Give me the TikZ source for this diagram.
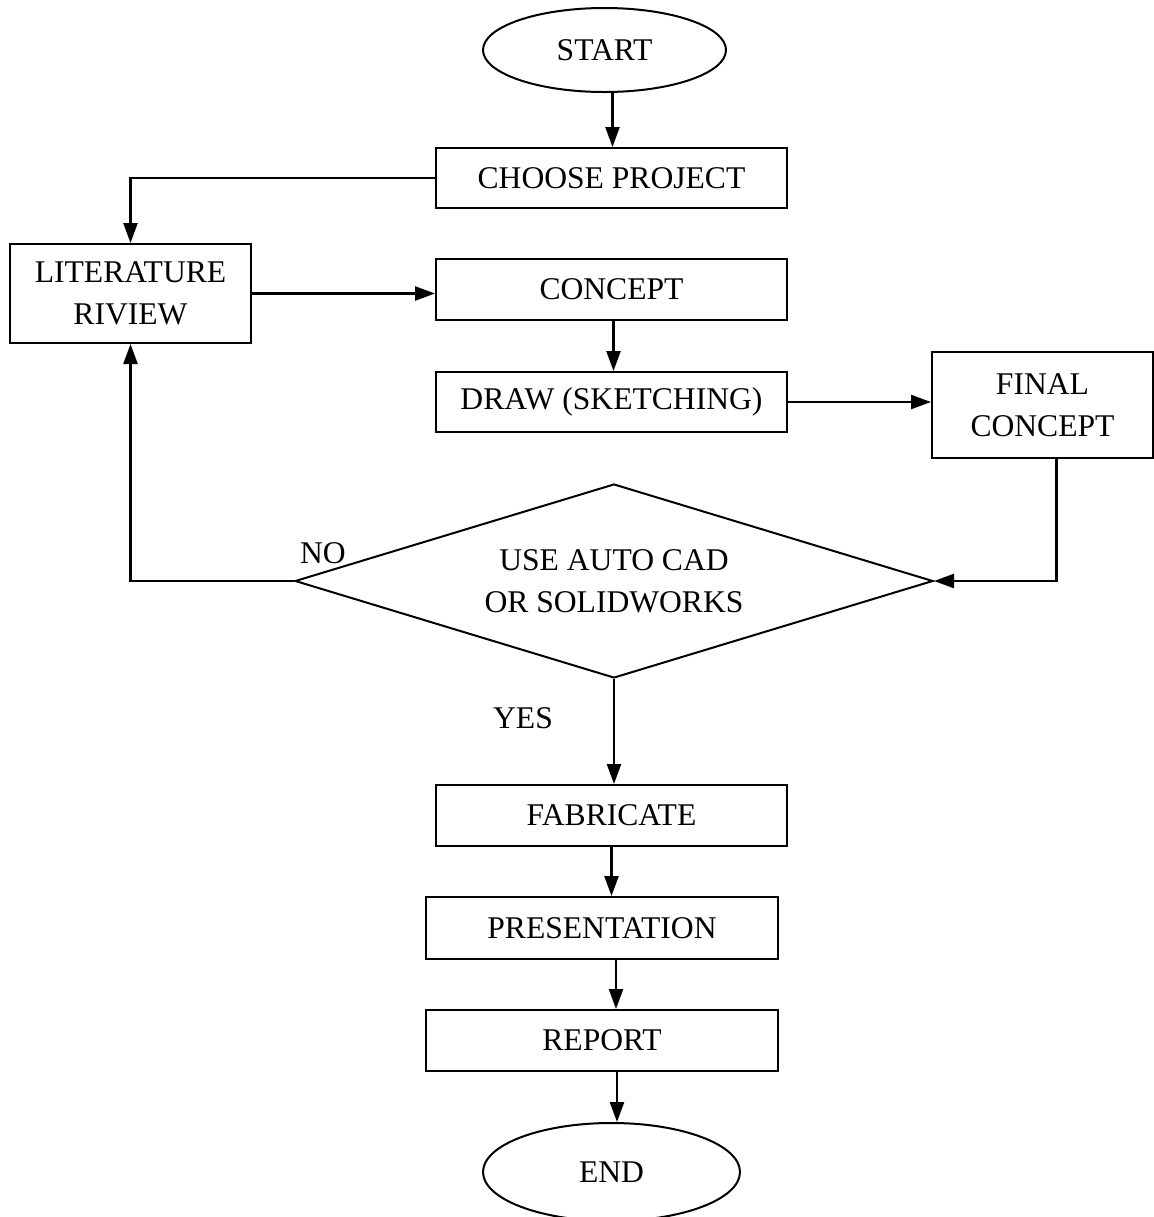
\documentclass[tikz,border=0pt]{standalone}
\usepackage{fontspec}
\setmainfont{Liberation Serif}
\usetikzlibrary{arrows.meta,shapes.geometric}
\tikzset{
  txt/.style={font=\fontsize{15.8}{21}\selectfont},
  box/.style={txt,draw,line width=1pt,rectangle,inner sep=0pt,align=center},
  term/.style={txt,draw,line width=1pt,ellipse,inner sep=0pt},
  decide/.style={txt,draw,line width=1pt,diamond,aspect=3.3,inner sep=0pt,align=center},
  arr/.style={line width=1.2pt,-{Triangle[length=10pt,width=7pt]}},
  link/.style={line width=1.2pt}
}
\begin{document}
\begin{tikzpicture}[x=0.5pt,y=-0.5pt]
            \useasboundingbox (0,0) rectangle (1154,1217);
            %方框
            \node[term,minimum width=121.5pt,minimum height=42pt] (start) at (604.5,50) {START};
            \node[box,minimum width=175.5pt,minimum height=30pt] (choose) at (611.5,178) {CHOOSE PROJECT};
            \node[box,minimum width=120.5pt,minimum height=49.5pt] (lit) at (130.5,293.5) {LITERATURE\\RIVIEW};
            \node[box,minimum width=175.5pt,minimum height=30.5pt] (concept) at (611.5,289.5) {CONCEPT};
            \node[box,minimum width=175.5pt,minimum height=30pt] (sketch) at (611.5,402) {DRAW (SKETCHING)};
            \node[box,minimum width=110.5pt,minimum height=53pt] (final) at (1042.5,405) {FINAL\\CONCEPT};
            \node[decide,minimum width=319pt,minimum height=97pt] (cad) at (614,581) {USE AUTO CAD\\OR SOLIDWORKS};
            \node[box,minimum width=175.5pt,minimum height=30.5pt] (fab) at (611.5,815.5) {FABRICATE};
            \node[box,minimum width=176pt,minimum height=31pt] (pres) at (602,928) {PRESENTATION};
            \node[box,minimum width=176pt,minimum height=30.5pt] (rep) at (602,1040.5) {REPORT};
            \node[term,minimum width=128.5pt,minimum height=49pt] (stop) at (611.5,1172) {END};
            %标注
            \node[txt] (no) at (323,553) {NO};
            \node[txt] (yes) at (523,718) {YES};
            %箭头
            \draw [arr] ([xshift=4pt]start.south) -- ([xshift=4pt]start.south |- choose.north);
            \draw [arr] (choose.west) -| (lit.north);
            \draw [arr] (lit.east) -- (lit.east -| concept.west);
            \draw [arr] ([xshift=1pt]concept.south) -- ([xshift=1pt]concept.south |- sketch.north);
            \draw [arr] (sketch.east) -- (sketch.east -| final.west);
            \draw [arr] ([xshift=7pt]final.south) |- (cad.east);
            \draw [arr] (cad.west) -| (lit.south);
            \draw [arr] (cad.south) -- (cad.south |- fab.north);
            \draw [arr] (fab.south) -- (fab.south |- pres.north);
            \draw [arr] ([xshift=7pt]pres.south) -- ([xshift=7pt]pres.south |- rep.north);
            \draw [arr] ([xshift=7.5pt]rep.south) -- ([xshift=7.5pt]rep.south |- stop.north);
    \end{tikzpicture}
\end{document}
